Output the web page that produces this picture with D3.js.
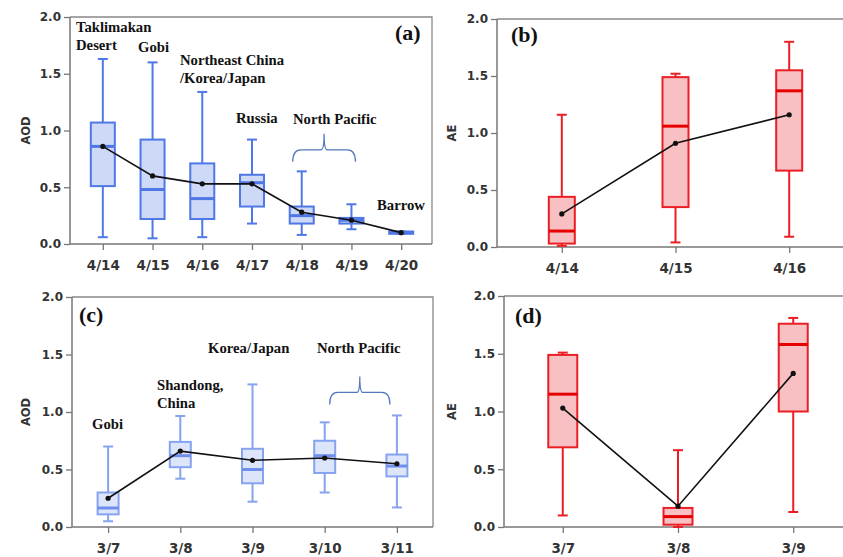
<!DOCTYPE html>
<html>
<head>
<meta charset="utf-8">
<script src="https://cdn.jsdelivr.net/npm/d3@7"></script>
<style>
  body { margin: 0; background: #fff; }
  svg { display: block; }
  .tick text { font-family: "DejaVu Sans", Verdana, sans-serif; font-weight: bold; fill: #333; }
  .note { font-family: "Liberation Serif", "Times New Roman", serif; font-weight: bold; fill: #111; }
</style>
</head>
<body>
<div id="chart"></div>
<script>
// ---- data ----
// (a) AOD, April
var datesA = ["4/14", "4/15", "4/16", "4/17", "4/18", "4/19", "4/20"];
var minA  = [0.06, 0.05, 0.06, 0.18, 0.08, 0.13, 0.09];
var q1A   = [0.51, 0.22, 0.22, 0.33, 0.18, 0.18, 0.09];
var medA  = [0.86, 0.48, 0.40, 0.54, 0.25, 0.21, 0.10];
var q3A   = [1.07, 0.92, 0.71, 0.61, 0.33, 0.23, 0.11];
var maxA  = [1.63, 1.60, 1.34, 0.92, 0.64, 0.35, 0.11];
var meanA = [0.86, 0.60, 0.53, 0.53, 0.28, 0.21, 0.10];

// (b) AE, April
var datesB = ["4/14", "4/15", "4/16"];
var minB  = [0.01, 0.04, 0.09];
var q1B   = [0.03, 0.35, 0.67];
var medB  = [0.14, 1.06, 1.37];
var q3B   = [0.44, 1.49, 1.55];
var maxB  = [1.16, 1.52, 1.80];
var meanB = [0.29, 0.91, 1.16];

// (c) AOD, March
var datesC = ["3/7", "3/8", "3/9", "3/10", "3/11"];
var minC  = [0.05, 0.42, 0.22, 0.30, 0.17];
var q1C   = [0.11, 0.52, 0.38, 0.47, 0.44];
var medC  = [0.165, 0.62, 0.50, 0.62, 0.53];
var q3C   = [0.30, 0.74, 0.68, 0.75, 0.63];
var maxC  = [0.70, 0.965, 1.24, 0.91, 0.97];
var meanC = [0.25, 0.66, 0.58, 0.60, 0.55];

// (d) AE, March
var datesD = ["3/7", "3/8", "3/9"];
var minD  = [0.10, 0.00, 0.13];
var q1D   = [0.69, 0.02, 1.00];
var medD  = [1.15, 0.09, 1.58];
var q3D   = [1.49, 0.165, 1.76];
var maxD  = [1.51, 0.665, 1.81];
var meanD = [1.03, 0.18, 1.33];

var yTicks = [0, 0.5, 1.0, 1.5, 2.0];

var W = 843, H = 557;
var svg = d3.select("#chart").append("svg")
  .attr("width", W)
  .attr("height", H);

function rows(dates, mn, q1, md, q3, mx, mean) {
  return dates.map(function(d, i) {
    return {date: d, min: mn[i], q1: q1[i], med: md[i], q3: q3[i], max: mx[i], mean: mean[i]};
  });
}

// draw one box-plot panel
function panel(p) {
  var x = d3.scalePoint().domain(p.data.map(function(d) { return d.date; }))
    .range([p.left, p.right]).padding(p.pad);
  var y = d3.scaleLinear().domain([0, 2]).range([p.bottom, p.top]);
  var g = svg.append("g");

  // frame: top line and (where visible) right line
  g.append("path")
    .attr("d", "M" + p.left + "," + p.top + "H" + p.frameRight + (p.rightLine ? "V" + p.bottom : ""))
    .attr("fill", "none").attr("stroke", "#888").attr("stroke-width", 1.3);

  var yAxis = g.append("g")
    .attr("transform", "translate(" + p.left + ",0)")
    .call(d3.axisLeft(y).tickValues(yTicks).tickFormat(d3.format(".1f")).tickSize(6).tickPadding(3));
  yAxis.selectAll("text").style("font-size", "12px");

  var xAxis = g.append("g")
    .attr("transform", "translate(0," + p.bottom + ")")
    .call(d3.axisBottom(x).tickSize(6).tickPadding(10).tickSizeOuter(0));
  xAxis.selectAll("text").style("font-size", "13.5px");
  g.selectAll(".domain").attr("stroke", "#777").attr("stroke-width", 1.5);
  g.selectAll(".tick line").attr("stroke", "#777").attr("stroke-width", 1.3);
  // extend x axis to the frame edge
  xAxis.select(".domain").attr("d", "M" + p.left + ",0H" + p.frameRight);
  yAxis.select(".domain").attr("d", "M0," + p.top + "V" + p.bottom);

  g.append("text")
    .attr("transform", "translate(" + p.yLabelX + "," + ((p.top + p.bottom) / 2) + ") rotate(-90)")
    .attr("text-anchor", "middle")
    .style("font-family", "'DejaVu Sans', Verdana, sans-serif")
    .style("font-weight", "bold").style("font-size", "11.5px").style("fill", "#333")
    .text(p.yLabel);

  var bw = p.boxW, cw = 10;
  var box = g.selectAll(".box").data(p.data).enter().append("g").attr("class", "box");
  box.append("line")
    .attr("x1", function(d) { return x(d.date); }).attr("x2", function(d) { return x(d.date); })
    .attr("y1", function(d) { return y(d.min); }).attr("y2", function(d) { return y(d.max); })
    .attr("stroke", p.stroke).attr("stroke-width", 2);
  ["min", "max"].forEach(function(k) {
    box.append("line")
      .attr("x1", function(d) { return x(d.date) - cw / 2; }).attr("x2", function(d) { return x(d.date) + cw / 2; })
      .attr("y1", function(d) { return y(d[k]); }).attr("y2", function(d) { return y(d[k]); })
      .attr("stroke", p.stroke).attr("stroke-width", 2);
  });
  box.append("rect")
    .attr("x", function(d) { return x(d.date) - bw / 2; })
    .attr("y", function(d) { return y(d.q3); })
    .attr("width", bw)
    .attr("height", function(d) { return Math.max(1.5, y(d.q1) - y(d.q3)); })
    .attr("fill", p.fill).attr("stroke", p.stroke).attr("stroke-width", 2);
  box.append("line")
    .attr("x1", function(d) { return x(d.date) - bw / 2; }).attr("x2", function(d) { return x(d.date) + bw / 2; })
    .attr("y1", function(d) { return y(d.med); }).attr("y2", function(d) { return y(d.med); })
    .attr("stroke", p.medStroke).attr("stroke-width", 3);

  // mean line
  var line = d3.line().x(function(d) { return x(d.date); }).y(function(d) { return y(d.mean); });
  g.append("path").datum(p.data).attr("d", line)
    .attr("fill", "none").attr("stroke", "#111").attr("stroke-width", 1.6);
  g.selectAll(".mean").data(p.data).enter().append("circle")
    .attr("cx", function(d) { return x(d.date); }).attr("cy", function(d) { return y(d.mean); })
    .attr("r", 2.6).attr("fill", "#111");

  // panel letter
  g.append("text").attr("class", "note")
    .attr("x", p.letterX).attr("y", p.letterY)
    .style("font-size", "22px").text(p.letter);

  // region notes
  (p.notes || []).forEach(function(n) {
    var t = g.append("text").attr("class", "note")
      .attr("x", n[0]).attr("y", n[1]).style("font-size", "14.7px");
    n[2].forEach(function(s, i) {
      t.append("tspan").attr("x", n[0]).attr("dy", i ? 18 : 0).text(s);
    });
  });

  // brace over the North Pacific boxes
  if (p.brace) {
    var b = p.brace, x0 = x(b.from) + b.dx0, x1 = x(b.to) + b.dx1, xm = (x0 + x1) / 2;
    var by = y(b.level);
    g.append("path")
      .attr("d", "M" + x0 + "," + (by + 12) + "Q" + x0 + "," + by + " " + (x0 + 8) + "," + by +
                 "H" + (xm - 3) + "Q" + xm + "," + by + " " + xm + "," + (by - 16) +
                 "Q" + xm + "," + by + " " + (xm + 3) + "," + by +
                 "H" + (x1 - 8) + "Q" + x1 + "," + by + " " + x1 + "," + (by + 12))
      .attr("fill", "none").attr("stroke", "#5577bb").attr("stroke-width", 1.3);
  }
}

var blue = "#4f77e6", blueFill = "#cdd9f7";
var paleBlue = "#86a3f0", paleFill = "#dde5fa";
var red = "#ea1f26", redFill = "#f8c0c2";

panel({
  data: rows(datesA, minA, q1A, medA, q3A, maxA, meanA),
  left: 70, right: 434, frameRight: 432, rightLine: true, top: 17, bottom: 244, pad: 0.66,
  boxW: 24, stroke: blue, medStroke: blue, fill: blueFill,
  yLabel: "AOD", yLabelX: 30, letter: "(a)", letterX: 395, letterY: 40,
  notes: [[76, 32, ["Taklimakan", "Desert"]], [138, 52, ["Gobi"]],
          [180, 65, ["Northeast China", "/Korea/Japan"]],
          [236, 123, ["Russia"]], [293, 124, ["North Pacific"]], [377, 210, ["Barrow"]]],
  brace: {from: "4/18", to: "4/19", level: 0.83, dx0: -9, dx1: 4}
});

panel({
  data: rows(datesB, minB, q1B, medB, q3B, maxB, meanB),
  left: 497, right: 854, frameRight: 843, rightLine: false, top: 19, bottom: 247, pad: 0.57,
  boxW: 26, stroke: red, medStroke: "#e60000", fill: redFill,
  yLabel: "AE", yLabelX: 456, letter: "(b)", letterX: 511, letterY: 42
});

panel({
  data: rows(datesC, minC, q1C, medC, q3C, maxC, meanC),
  left: 72, right: 433, frameRight: 433, rightLine: true, top: 297, bottom: 527, pad: 0.5,
  boxW: 21, stroke: paleBlue, medStroke: "#6f8fec", fill: paleFill,
  yLabel: "AOD", yLabelX: 30, letter: "(c)", letterX: 79, letterY: 322,
  notes: [[92, 429, ["Gobi"]], [157, 390, ["Shandong,", "China"]],
          [208, 353, ["Korea/Japan"]], [317, 353, ["North Pacific"]]],
  brace: {from: "3/10", to: "3/11", level: 1.17, dx0: 5, dx1: -7}
});

panel({
  data: rows(datesD, minD, q1D, medD, q3D, maxD, meanD),
  left: 504, right: 852, frameRight: 843, rightLine: false, top: 296, bottom: 527, pad: 0.51,
  boxW: 29, stroke: red, medStroke: "#e60000", fill: redFill,
  yLabel: "AE", yLabelX: 456, letter: "(d)", letterX: 515, letterY: 323
});
</script>
</body>
</html>
